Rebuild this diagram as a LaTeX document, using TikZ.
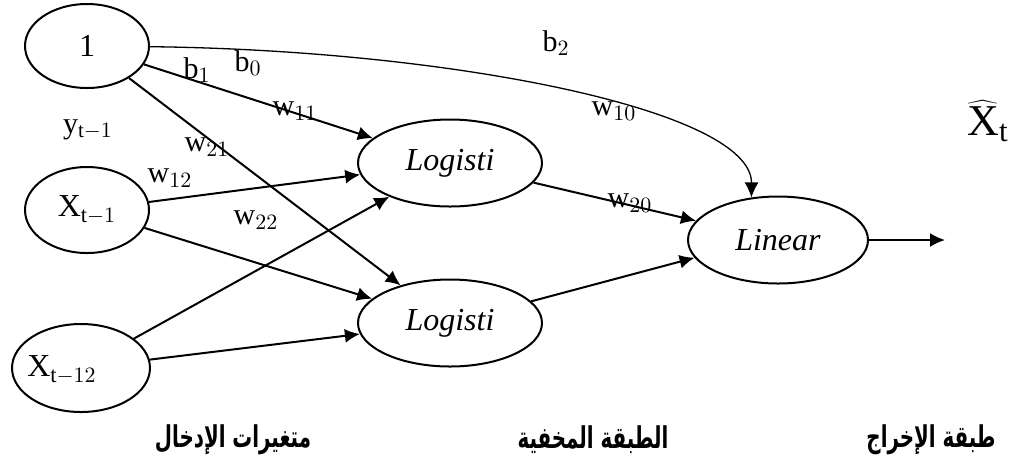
\documentclass[tikz,border=0pt]{standalone}
\usepackage{fontspec}
\setmainfont{Liberation Serif}
\newfontfamily\arabicfont[Script=Arabic,FakeStretch=0.66]{DejaVu Sans}
\TeXXeTstate=1
\usetikzlibrary{shapes.geometric,arrows.meta}

\begin{document}
\begin{tikzpicture}[x=0.5pt,y=-0.5pt,
  unit/.style={draw,ellipse,line width=1pt,inner sep=0pt,font=\fontsize{16}{18}\selectfont},
  wt/.style={font=\fontsize{15}{17}\selectfont},
  link/.style={line width=1pt,-{Latex[length=7.5pt,width=7pt]}},
  layer/.style={font=\arabicfont\bfseries\fontsize{15}{17}\selectfont}]
  \useasboundingbox (0,0) rectangle (1033,463);
  % inputs
  \node[unit,minimum width=62pt,minimum height=42pt] (one) at (87,46) {1};
  \node[unit,minimum width=62pt,minimum height=43pt] (x1) at (87,210) {$\mathrm{X}_{\mathrm{t}-1}$};
  \node[unit,minimum width=69pt,minimum height=44pt] (x12) at (81,368) {};
  \node[font=\fontsize{16}{18}\selectfont] (x12txt) at (62,370) {$\mathrm{X}_{\mathrm{t}-12}$};
  % hidden and output
  \node[unit,minimum width=92pt,minimum height=43.5pt] (h1) at (450,163) {\textit{Logisti}};
  \node[unit,minimum width=92pt,minimum height=43.5pt] (h2) at (450,323) {\textit{Logisti}};
  \node[unit,minimum width=90pt,minimum height=43.5pt] (lin) at (778,240) {\textit{Linear}};
  \coordinate (out) at (945,240);

  \draw[link] (one) -- (h1);
  \draw[link] (one) -- (h2);
  \draw[link] (x1) -- (h1);
  \draw[link] (x1) -- (h2);
  \draw[link] (x12) -- (h1);
  \draw[link] (x12) -- (h2);
  \draw[link] (h1) -- (lin);
  \draw[link] (h2) -- (lin.192);
  \draw[link] (lin.east) -- (out);
  \draw[line width=0.65pt,-{Latex[length=7.5pt,width=7pt]}]
    (one) .. controls (450,50) and (752,110) .. (lin.122);

  % weights
  \node[wt] (lb2) at (556,43) {$\mathrm{b}_{2}$};
  \node[wt] (lb0) at (248,63) {$\mathrm{b}_{0}$};
  \node[wt] (lb1) at (197,70) {$\mathrm{b}_{1}$};
  \node[wt] (lw11) at (295,111) {$\mathrm{w}_{11}$};
  \node[wt] (ly) at (88,130) {$\mathrm{y}_{\mathrm{t}-1}$};
  \node[wt] (lw21) at (207,147) {$\mathrm{w}_{21}$};
  \node[wt] (lw12) at (170,178) {$\mathrm{w}_{12}$};
  \node[wt] (lw22) at (256,220) {$\mathrm{w}_{22}$};
  \node[wt] (lw10) at (614,111) {$\mathrm{w}_{10}$};
  \node[wt] (lw20) at (630,203) {$\mathrm{w}_{20}$};
  \node[font=\fontsize{22}{24}\selectfont] (xhat) at (988,121) {$\widehat{\mathrm{X}}_{\mathrm{t}}$};

  % layer names
  \node[layer] (linput) at (233,440) {\beginR متغيرات الإدخال\endR};
  \node[layer] (lhidden) at (593,440) {\beginR الطبقة المخفية\endR};
  \node[layer] (loutput) at (931,440) {\beginR طبقة الإخراج\endR};
\end{tikzpicture}
\end{document}
